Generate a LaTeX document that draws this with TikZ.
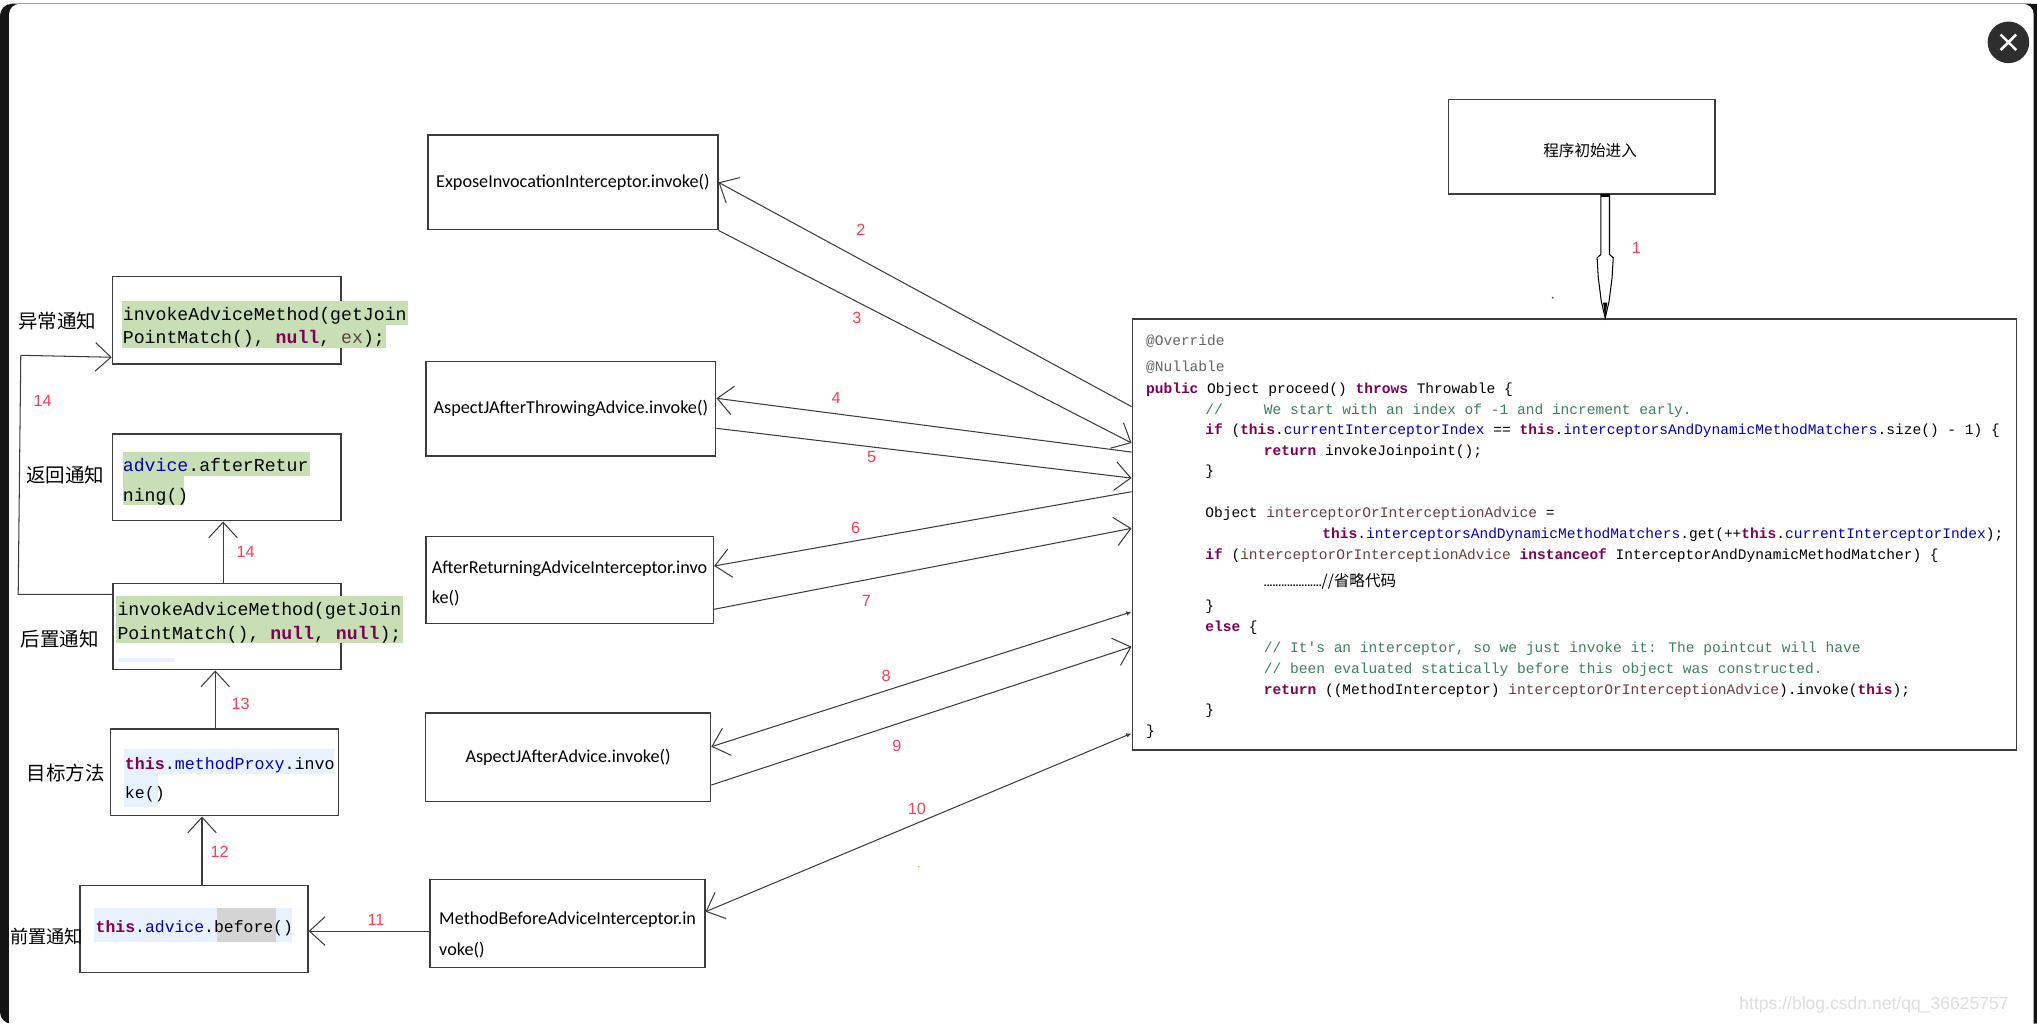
\documentclass[tikz,border=0pt]{standalone}
\usepackage{fontspec}
\setmainfont{Liberation Sans}
\newfontfamily\cjk{Noto Sans CJK SC}
\newfontfamily\cmono{Liberation Mono}
\newfontfamily\ifont{Carlito}
\usetikzlibrary{arrows.meta,calc}
\definecolor{kwc}{HTML}{7F0055}
\definecolor{fldc}{HTML}{0000C0}
\definecolor{cmtc}{HTML}{3F7F5F}
\definecolor{annc}{HTML}{646464}
\definecolor{varc}{HTML}{6A3E3E}
\definecolor{hlgreen}{HTML}{C8DFB6}
\definecolor{hlblue}{HTML}{E8F2FE}
\definecolor{hlgrey}{HTML}{D4D4D4}
\definecolor{lblc}{HTML}{FF3C55}
\definecolor{edgec}{HTML}{3C3C3C}
\newcommand{\ckw}[1]{{\bfseries\color{kwc}#1}}
\newcommand{\cfld}[1]{{\color{fldc}#1}}
\newcommand{\cvar}[1]{{\color{varc}#1}}
\begin{document}
\begin{tikzpicture}[x=1pt,y=-1pt,
  ibox/.style={draw=edgec,line width=1.1pt,inner sep=0pt,anchor=north west},
  conn/.style={draw=edgec,line width=0.8pt,-{Straight Barb[length=12pt,width=22pt]}},
  conntwo/.style={draw=edgec,line width=0.8pt,{Latex[length=4pt,width=3.5pt]}-{Straight Barb[length=12pt,width=22pt]}},
  numlbl/.style={text=lblc,font=\fontsize{12.5}{12}\selectfont,inner sep=0pt},
  codeln/.style={anchor=base west,inner sep=0pt,font=\cmono\fontsize{11.2}{13}\selectfont},
  lcode/.style={anchor=base west,inner sep=0pt,font=\cmono\fontsize{14}{16}\selectfont},
  scode/.style={anchor=base west,inner sep=0pt,font=\cmono\fontsize{12.8}{15}\selectfont},
  itxt/.style={inner sep=0pt,font=\ifont\fontsize{14}{16}\selectfont},
  cjklbl/.style={inner sep=0pt,font=\cjk\fontsize{15}{16}\selectfont}]
\useasboundingbox (0,0) rectangle (1568,791);
% frame
\fill[white] (0,0) rectangle (1568,791);
\fill[black!92,rounded corners=9pt] (0,3) rectangle (1590,788);
\fill[white,rounded corners=8pt] (7,3) rectangle (1565.4,830);
\draw[black!35,line width=0.8pt] (9,3) -- (1563,3);
\fill[black!82] (1546,32.6) circle (16);
\draw[white,line width=2pt] (1540,26.6) -- (1552,38.6) (1552,26.6) -- (1540,38.6);
\node[text=black!13,inner sep=0pt,font=\fontsize{13.5}{14}\selectfont] (wm) at (1442.5,773.7) {https://blog.csdn.net/qq\_36625757};
\fill[black!60] (1195.2,229.2) circle (0.8);
\fill[orange!70] (707.2,667.2) circle (0.7);

% start box and code box
\node[ibox,minimum width=205.1,minimum height=72.6] (start) at (1114.6,76.2) {};
\node[inner sep=0pt,font=\cjk\fontsize{12}{13}\selectfont] (startt) at (1224,116) {程序初始进入};
\node[ibox,minimum width=680.6,minimum height=331.8] (code) at (871,245) {};

% hollow arrow 1
\coordinate (a1) at ($(start.south west)+(121,0)$);
\draw[black,line width=0.8pt,fill=white] (a1) ++(-3.3,0) -- ++(0,46) -- ++(-2.9,2.5) -- ++(0.9,15.5) -- ++(2.3,18) -- ++(3,13) -- ++(3,-13) -- ++(2.3,-18) -- ++(0.9,-15.5) -- ++(-2.9,-2.5) -- ++(0,-46) -- cycle;
\fill[black] (a1) ++(-1.6,83) -- ++(1.6,12) -- ++(1.6,-12) -- cycle;
\draw[black,line width=2pt] (a1) ++(-3.3,0.5) -- ++(6.6,0);
\node[numlbl] (n1) at (1259.7,191.2) {1};

% code lines
\node[codeln] (c1) at (882,265.6) {\color{annc}@Override};
\node[codeln] (c2) at (882,286.1) {\color{annc}@Nullable};
\node[codeln] (c3) at (882,302.8) {\ckw{public} Object proceed() \ckw{throws} Throwable \{};
\node[codeln] (c4a) at (927.6,318.7) {\color{cmtc}//};
\node[codeln] (c4b) at (972.7,318.7) {\color{cmtc}We start with an index of -1 and increment early.};
\node[codeln] (c5) at (927.6,334.4) {\ckw{if} (\ckw{this}.\cfld{currentInterceptorIndex} == \ckw{this}.\cfld{interceptorsAndDynamicMethodMatchers}.size() - 1) \{};
\node[codeln] (c6) at (972.7,350.8) {\ckw{return} invokeJoinpoint();};
\node[codeln] (c7) at (927.6,366.2) {\}};
\node[codeln] (c8) at (927.6,398.3) {Object \cvar{interceptorOrInterceptionAdvice} =};
\node[codeln] (c9) at (1017.7,414.4) {\ckw{this}.\cfld{interceptorsAndDynamicMethodMatchers}.get(++\ckw{this}.\cfld{currentInterceptorIndex});};
\node[codeln] (c10) at (927.6,430.6) {\ckw{if} (\cvar{interceptorOrInterceptionAdvice} \ckw{instanceof} InterceptorAndDynamicMethodMatcher) \{};
\node[codeln] (c11) at (972.7,451.6) {{\rmfamily\bfseries\fontsize{8}{8}\selectfont ....................}{\cjk\fontsize{12}{13}\selectfont //省略代码}};
\node[codeln] (c12) at (927.6,469.6) {\}};
\node[codeln] (c13) at (927.6,485.8) {\ckw{else} \{};
\node[codeln] (c14) at (972.7,502.4) {\color{cmtc}// It's an interceptor, so we just invoke it: The pointcut will have};
\node[codeln] (c15) at (972.7,518.3) {\color{cmtc}// been evaluated statically before this object was constructed.};
\node[codeln] (c16) at (972.7,534.3) {\ckw{return} ((MethodInterceptor) \cvar{interceptorOrInterceptionAdvice}).invoke(\ckw{this});};
\node[codeln] (c17) at (927.6,549.7) {\}};
\node[codeln] (c18) at (882,565.8) {\}};

% interceptor boxes
\node[ibox,minimum width=223,minimum height=72.9,itxt] (expose) at (329,103.4) {ExposeInvocationInterceptor.invoke()};
\node[ibox,minimum width=223.1,minimum height=72.6,itxt] (throw) at (327.3,277.9) {AspectJAfterThrowingAdvice.invoke()};
\node[ibox,minimum width=221.3,minimum height=67] (ret) at (327.3,412.6) {};
\node[itxt,anchor=base west] (ret1) at (332.2,441.4) {AfterReturningAdviceInterceptor.invo};
\node[itxt,anchor=base west] (ret2) at (332.2,464.5) {ke()};
\node[ibox,minimum width=219.4,minimum height=68,itxt] (after) at (327,548.4) {AspectJAfterAdvice.invoke()};
\node[ibox,minimum width=211.4,minimum height=67.8] (mbefore) at (330.6,676.4) {};
\node[itxt,anchor=base west] (mb1) at (337.9,712) {MethodBeforeAdviceInterceptor.in};
\node[itxt,anchor=base west] (mb2) at (337.9,735.2) {voke()};

% left boxes
\node[ibox,minimum width=175.8,minimum height=67.2] (exc) at (86,212.5) {};
\node[ibox,minimum width=175.8,minimum height=66.7] (retn) at (86,333.6) {};
\node[ibox,minimum width=175.3,minimum height=66.5] (aft) at (86.5,448.5) {};
\node[ibox,minimum width=175.3,minimum height=66.7] (tgt) at (84.7,560.7) {};
\node[ibox,minimum width=175.5,minimum height=67] (bef) at (61,681) {};

% highlights
\fill[hlgreen] (93.7,232) rectangle (314,250.2);
\fill[hlgreen] (93.7,250) rectangle (297,268);
\fill[hlgreen] (94.4,348) rectangle (238.6,366.7);
\fill[hlgreen] (94.4,366.5) rectangle (141.6,388.7);
\fill[hlgreen] (89.3,459) rectangle (310,477);
\fill[hlgreen] (89.3,476.8) rectangle (310,495.3);
\fill[hlblue] (91.9,506.3) rectangle (134,509.9);
\fill[hlblue] (95.2,576.9) rectangle (256.8,596.1);
\fill[hlblue] (95.2,595.9) rectangle (121.7,621);
\fill[hlblue] (72.7,699.3) rectangle (224.5,725);
\fill[hlgrey] (167,699.3) rectangle (212.6,725);

% left code texts
\node[lcode] (exc1) at (94.4,247) {invokeAdviceMethod(getJoin};
\node[lcode] (exc2) at (94.4,264.3) {PointMatch(), \ckw{null}, \cvar{ex});};
\node[lcode] (retn1) at (94.4,363) {\cfld{advice}.afterRetur};
\node[lcode] (retn2) at (94.4,386) {ning()};
\node[lcode] (aft1) at (90.3,473.7) {invokeAdviceMethod(getJoin};
\node[lcode] (aft2) at (90.3,492) {PointMatch(), \ckw{null}, \ckw{null});};
\node[scode] (tgt1) at (96,592) {\ckw{this}.\cfld{methodProxy}.invo};
\node[scode] (tgt2) at (96,614.6) {ke()};
\node[scode,font=\cmono\fontsize{12.65}{15}\selectfont] (bef1) at (73.5,718) {\ckw{this}.\cfld{advice}.before()};

% left labels
\node[cjklbl] (exclbl) at (43.9,247) {异常通知};
\node[cjklbl] (retnlbl) at (50.3,365.7) {返回通知};
\node[cjklbl] (aftlbl) at (45.9,492.2) {后置通知};
\node[cjklbl] (tgtlbl) at (50.5,595.3) {目标方法};
\node[cjklbl,font=\cjk\fontsize{14}{15}\selectfont] (beflbl) at (35.8,721) {前置通知};

% connectors right
\draw[conn] ($(code.north west)+(0,68)$) -- (expose.east);
\draw[conn] (expose.south east) -- ($(code.north west)+(0,96)$);
\draw[conn] ($(code.north west)+(0,103)$) -- ($(throw.north east)+(0,28.7)$);
\draw[conn] ($(throw.north east)+(0,51.8)$) -- ($(code.north west)+(0,123)$);
\draw[conn] ($(code.north west)+(0,133.5)$) -- ($(ret.north east)+(0,23.1)$);
\draw[conn] ($(ret.north east)+(0,56.4)$) -- ($(code.north west)+(0,161.7)$);
\draw[conntwo] ($(code.north west)+(0,226)$) -- ($(after.north east)+(0,26.4)$);
\draw[conn] ($(after.north east)+(0,55.9)$) -- ($(code.north west)+(0,252.8)$);
\draw[conntwo] ($(code.north west)+(0,319.5)$) -- ($(mbefore.north east)+(0,25.4)$);

% connectors left
\draw[conn] ($(mbefore.north west)+(0,40.3)$) -- ($(bef.north east)+(0,35.7)$);
\draw[conn] ($(bef.north west)+(94.5,0)$) -- ($(tgt.south west)+(70.8,0)$);
\draw[conn] ($(tgt.north west)+(81,0)$) -- ($(aft.south west)+(79.2,0)$);
\draw[conn] ($(aft.north west)+(85.2,0)$) -- ($(retn.south west)+(85.7,0)$);
\coordinate (b14a) at (14,457.5);
\coordinate (b14b) at (16,273.5);
\draw[conn] ($(aft.north west)+(0,9)$) -- (b14a) -- (b14b) -- ($(exc.north west)+(0,62.5)$);

% number labels
\node[numlbl] (n2) at (662.6,177) {2};
\node[numlbl] (n3) at (659.5,244.5) {3};
\node[numlbl] (n4) at (643.6,306.6) {4};
\node[numlbl] (n5) at (671,351.6) {5};
\node[numlbl] (n6) at (658.7,406) {6};
\node[numlbl] (n7) at (666.9,462.4) {7};
\node[numlbl] (n8) at (682.2,520.1) {8};
\node[numlbl] (n9) at (690.4,574.3) {9};
\node[numlbl] (n10) at (705.7,622.8) {10};
\node[numlbl] (n11) at (289.5,708.3) {11};
\node[numlbl] (n12) at (169,655.6) {12};
\node[numlbl] (n13) at (185.3,542.2) {13};
\node[numlbl] (n14a) at (189,424.7) {14};
\node[numlbl] (n14b) at (32.8,308.7) {14};
\end{tikzpicture}
\end{document}
